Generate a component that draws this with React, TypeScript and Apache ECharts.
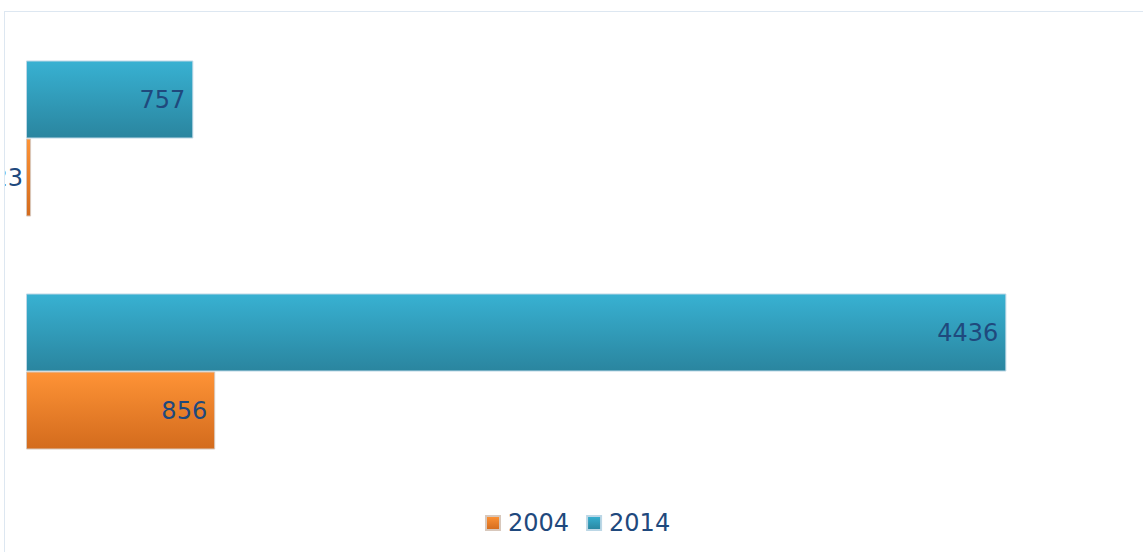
import React, { useEffect, useRef } from "react";
import * as echarts from "echarts";

const categories = ["B", "A"];
const seriesNames = ["2004", "2014"];
const values2004 = [856, 23];
const values2014 = [4436, 757];

export default function App() {
  const ref = useRef<HTMLDivElement>(null);
  useEffect(() => {
    if (!ref.current) return;
    const chart = echarts.init(ref.current, null, { renderer: "svg" });
    const grad = (top: string, bottom: string) =>
      new echarts.graphic.LinearGradient(0, 0, 0, 1, [
        { offset: 0, color: top },
        { offset: 1, color: bottom },
      ]);
    const label = {
      show: true,
      position: "insideRight" as const,
      distance: 8,
      color: "#1f497d",
      fontSize: 24,
      fontFamily: "DejaVu Sans",
    };
    chart.setOption({
      animation: false,
      grid: { left: 21, top: 10, width: 1105, height: 466, containLabel: false },
      xAxis: {
        type: "value",
        min: 0,
        max: 5000,
        show: false,
      },
      yAxis: {
        type: "category",
        data: categories,
        show: false,
      },
      legend: {
        data: seriesNames,
        left: 475,
        top: 494,
        itemWidth: 14,
        itemHeight: 14,
        itemGap: 17,
        textStyle: { color: "#1f497d", fontSize: 24, fontFamily: "DejaVu Sans", padding: [0, 0, 0, 3] },
        icon: "rect",
      },
      series: [
        {
          name: "2014",
          type: "bar",
          data: values2014,
          barWidth: 78,
          barGap: "0%",
          itemStyle: {
            color: grad("#38b1d2", "#2a859f"),
            borderColor: "#bcd7e6",
            borderWidth: 1,
          },
          label,
        },
        {
          name: "2004",
          type: "bar",
          data: values2004,
          barWidth: 78,
          barGap: "0%",
          itemStyle: {
            color: grad("#fe9336", "#d36b1d"),
            borderColor: "#d8c8bc",
            borderWidth: 1,
          },
          label,
        },
      ],
    });
    return () => chart.dispose();
  }, []);
  return (
    <div
      ref={ref}
      style={{
        position: "absolute",
        left: 4,
        top: 11,
        width: 1160,
        height: 560,
        border: "1px solid #dde7f1",
        boxSizing: "border-box",
        background: "#fff",
      }}
    />
  );
}
